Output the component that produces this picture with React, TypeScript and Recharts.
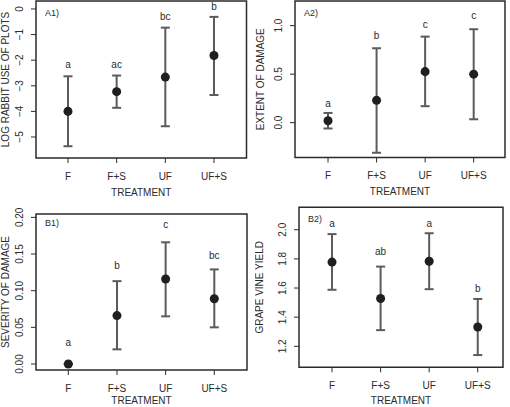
import { ScatterChart, Scatter, XAxis, YAxis, ErrorBar, ReferenceArea, Label } from 'recharts';

const treatments = ['F', 'F+S', 'UF', 'UF+S'];

// A1) log rabbit use of plots
const rabbitMean = [-4.0, -3.23, -2.66, -1.82];
const rabbitLow = [-5.36, -3.86, -4.58, -3.36];
const rabbitHigh = [-2.63, -2.6, -0.73, -0.31];
const rabbitLetters = ['a', 'ac', 'bc', 'b'];
const rabbitLetterAt = [-2.15, -2.15, -0.31, 0.09];
const rabbitTicks = [-5, -4, -3, -2, -1, 0];

// A2) extent of damage
const extentMean = [0.02, 0.23, 0.526, 0.5];
const extentLow = [-0.06, -0.31, 0.17, 0.035];
const extentHigh = [0.1, 0.767, 0.887, 0.963];
const extentLetters = ['a', 'b', 'c', 'c'];
const extentLetterAt = [0.196, 0.894, 1.007, 1.1];
const extentTicks = [0, 0.5, 1.0];

// B1) severity of damage
const severityMean = [0, 0.066, 0.116, 0.089];
const severityLow = [0, 0.02, 0.065, 0.05];
const severityHigh = [0, 0.113, 0.166, 0.129];
const severityLetters = ['a', 'b', 'c', 'bc'];
const severityLetterAt = [0.029, 0.134, 0.19, 0.148];
const severityTicks = [0, 0.05, 0.1, 0.15, 0.2];

// B2) grape vine yield
const yieldMean = [1.778, 1.528, 1.784, 1.333];
const yieldLow = [1.588, 1.311, 1.592, 1.14];
const yieldHigh = [1.97, 1.747, 1.976, 1.525];
const yieldLetters = ['a', 'ab', 'a', 'b'];
const yieldLetterAt = [2.041, 1.85, 2.041, 1.596];
const yieldTicks = [1.2, 1.4, 1.6, 1.8, 2.0];

const font = '"Liberation Sans", Arial, Helvetica, sans-serif';
const ink = '#2b2b2b';

function buildPoints(mean: number[], low: number[], high: number[]) {
  return mean.map((m, i) => ({ x: i + 1, y: m, err: [m - low[i], high[i] - m] }));
}

function buildLetters(letters: string[], at: number[]) {
  return letters.map((l, i) => ({ x: i + 1, y: at[i], letter: l }));
}

const minus = (v: number) => (v < 0 ? `\u2212${-v}` : `${v}`);

type Box = { l: number; t: number; r: number; b: number };

type PanelProps = {
  left: number;
  top: number;
  width: number;
  height: number;
  box: Box;
  xDomain: [number, number];
  yDomain: [number, number];
  yTicks: number[];
  fmt: (v: number) => string;
  yTitle: string;
  xTitleDy: number;
  tag: string;
  tagDy: number;
  points: any[];
  letters: any[];
};

function EffectPanel(p: PanelProps) {
  const { box, width, height, xDomain, yDomain } = p;
  return (
    <div style={{ position: 'absolute', left: p.left, top: p.top }}>
      <ScatterChart
        width={width}
        height={height}
        margin={{ top: box.t, right: width - box.r, bottom: 0, left: 0 }}
        style={{ fontFamily: font }}
      >
        <XAxis
          type="number"
          dataKey="x"
          domain={xDomain}
          ticks={[1, 2, 3, 4]}
          allowDataOverflow
          interval={0}
          height={height - box.b}
          axisLine={false}
          tickLine={{ stroke: ink }}
          tickSize={5}
          tickMargin={0}
          tick={(t: any) => (
            <text x={t.x} y={t.y + 13} textAnchor="middle" dominantBaseline="central" fontSize={10} fill={ink} fontFamily={font}>
              {treatments[t.payload.value - 1]}
            </text>
          )}
        >
          <Label
            content={(l: any) => (
              <text
                x={l.viewBox.x + l.viewBox.width / 2}
                y={l.viewBox.y + p.xTitleDy}
                textAnchor="middle"
                dominantBaseline="central"
                fontSize={10}
                fill={ink}
                fontFamily={font}
              >
                TREATMENT
              </text>
            )}
          />
        </XAxis>
        <YAxis
          type="number"
          dataKey="y"
          domain={yDomain}
          ticks={p.yTicks}
          allowDataOverflow
          interval={0}
          width={box.l}
          axisLine={false}
          tickLine={{ stroke: ink }}
          tickSize={5}
          tickMargin={0}
          tick={(t: any) => (
            <text
              x={t.x - 11}
              y={t.y}
              transform={`rotate(-90 ${t.x - 11} ${t.y})`}
              textAnchor="middle"
              dominantBaseline="central"
              fontSize={10}
              fill={ink}
              fontFamily={font}
            >
              {p.fmt(t.payload.value)}
            </text>
          )}
        >
          <Label
            content={(l: any) => {
              const cy = l.viewBox.y + l.viewBox.height / 2;
              return (
                <text
                  x={5}
                  y={cy}
                  transform={`rotate(-90 5 ${cy})`}
                  textAnchor="middle"
                  dominantBaseline="central"
                  fontSize={10}
                  fill={ink}
                  fontFamily={font}
                >
                  {p.yTitle}
                </text>
              );
            }}
          />
        </YAxis>
        <ReferenceArea
          x1={xDomain[0]}
          x2={xDomain[1]}
          y1={yDomain[0]}
          y2={yDomain[1]}
          fill="none"
          stroke={ink}
          strokeWidth={1.5}
          ifOverflow="visible"
          label={(l: any) => (
            <text
              x={l.viewBox.x + 9}
              y={l.viewBox.y + p.tagDy}
              dominantBaseline="central"
              fontSize={9}
              fill={ink}
              fontFamily={font}
            >
              {p.tag}
            </text>
          )}
        />
        <Scatter data={p.points} fill="#1f1f1f" isAnimationActive={false}>
          <ErrorBar dataKey="err" direction="y" width={4.5} stroke="#5b5b5b" strokeWidth={2} isAnimationActive={false} />
        </Scatter>
        <Scatter
          data={p.letters}
          isAnimationActive={false}
          shape={(s: any) => (
            <text x={s.cx} y={s.cy} textAnchor="middle" dominantBaseline="central" fontSize={10} fill={ink} fontFamily={font}>
              {s.payload.letter}
            </text>
          )}
        />
      </ScatterChart>
    </div>
  );
}

export default function App() {
  return (
    <div style={{ position: 'absolute', left: 0, top: 0, width: 510, height: 407, overflow: 'hidden', background: '#fff' }}>
      <EffectPanel
        left={0}
        top={0}
        width={255}
        height={200}
        box={{ l: 36, t: 1, r: 246.5, b: 158 }}
        xDomain={[0.343, 4.668]}
        yDomain={[-5.82, 0.31]}
        yTicks={rabbitTicks}
        fmt={minus}
        yTitle="LOG RABBIT USE OF PLOTS"
        xTitleDy={34}
        tag="A1)"
        tagDy={12}
        points={buildPoints(rabbitMean, rabbitLow, rabbitHigh)}
        letters={buildLetters(rabbitLetters, rabbitLetterAt)}
      />
      <EffectPanel
        left={255}
        top={0}
        width={255}
        height={200}
        box={{ l: 40, t: 1, r: 250, b: 157.5 }}
        xDomain={[0.32, 4.645]}
        yDomain={[-0.359, 1.254]}
        yTicks={extentTicks}
        fmt={(v) => v.toFixed(1)}
        yTitle="EXTENT OF DAMAGE"
        xTitleDy={34}
        tag="A2)"
        tagDy={12}
        points={buildPoints(extentMean, extentLow, extentHigh)}
        letters={buildLetters(extentLetters, extentLetterAt)}
      />
      <EffectPanel
        left={0}
        top={200}
        width={255}
        height={207}
        box={{ l: 36, t: 14, r: 247, b: 170 }}
        xDomain={[0.336, 4.672]}
        yDomain={[-0.0082, 0.2046]}
        yTicks={severityTicks}
        fmt={(v) => v.toFixed(2)}
        yTitle="SEVERITY OF DAMAGE"
        xTitleDy={30}
        tag="B1)"
        tagDy={9}
        points={buildPoints(severityMean, severityLow, severityHigh)}
        letters={buildLetters(severityLetters, severityLetterAt)}
      />
      <EffectPanel
        left={255}
        top={200}
        width={255}
        height={207}
        box={{ l: 44, t: 7.3, r: 248, b: 167.3 }}
        xDomain={[0.32, 4.52]}
        yDomain={[1.056, 2.154]}
        yTicks={yieldTicks}
        fmt={(v) => v.toFixed(1)}
        yTitle="GRAPE VINE YIELD"
        xTitleDy={33}
        tag="B2)"
        tagDy={12}
        points={buildPoints(yieldMean, yieldLow, yieldHigh)}
        letters={buildLetters(yieldLetters, yieldLetterAt)}
      />
    </div>
  );
}
